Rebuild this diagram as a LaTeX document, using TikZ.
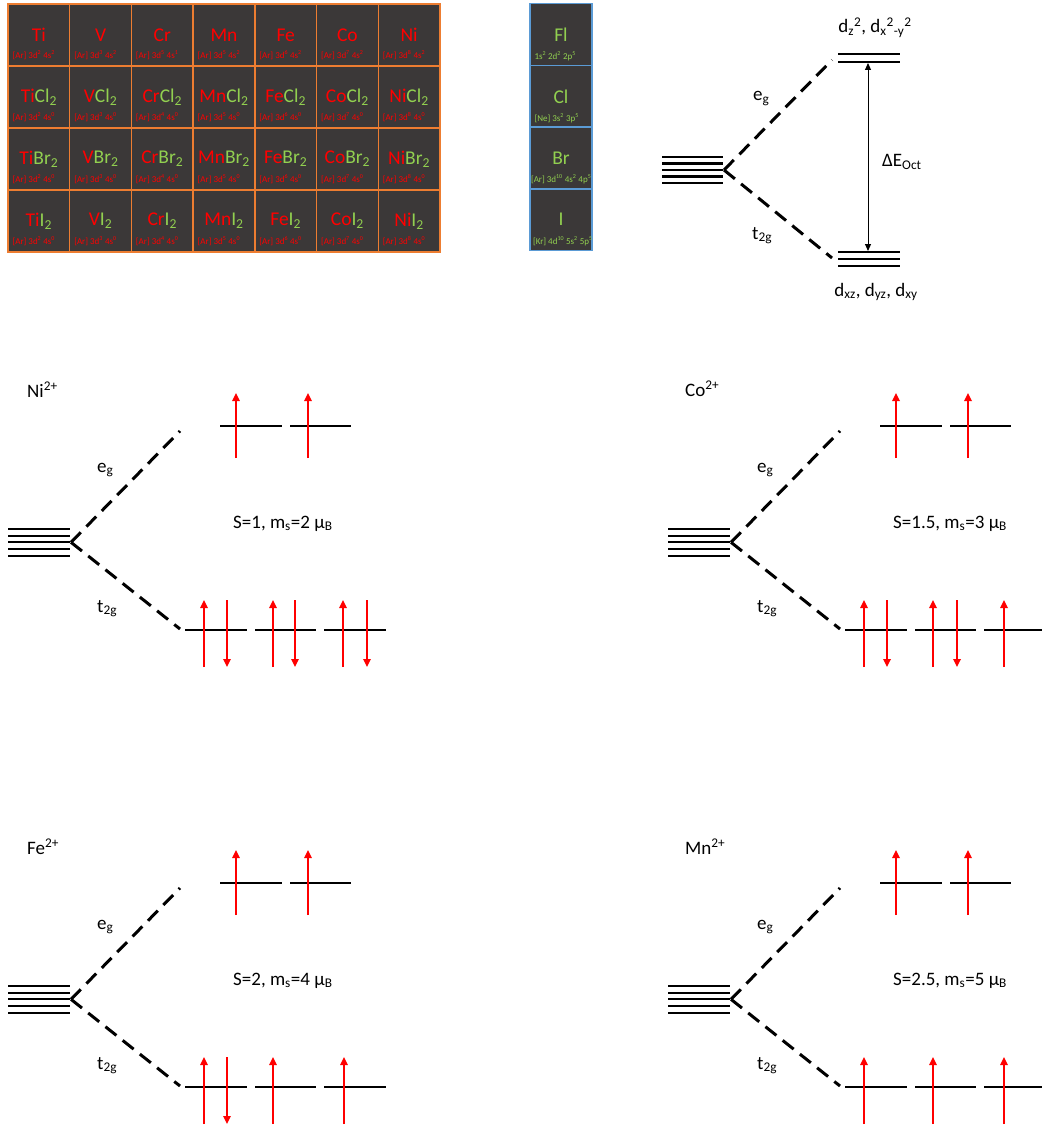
\documentclass[tikz,border=0pt]{standalone}
\usepackage{fontspec}
\setmainfont{Carlito}
\usetikzlibrary{arrows.meta,calc}
\definecolor{cellgray}{HTML}{3B3838}
\definecolor{cellorange}{HTML}{ED7D31}
\definecolor{cellblue}{HTML}{5B9BD5}
\definecolor{elgreen}{HTML}{92D050}
\definecolor{elred}{HTML}{FF0000}

\tikzset{
  metalcell/.style={draw=cellorange, line width=1.4pt, minimum width=61.7pt, minimum height=62pt, inner sep=0pt, text=elred, font=\fontsize{19.5}{22}\selectfont},
  halocell/.style={metalcell, draw=cellblue, minimum width=62pt, minimum height=61.7pt, text=elgreen},
  cfg/.style={anchor=base west, inner sep=0pt, text=elred, font=\fontsize{9}{10}\selectfont},
  lbl/.style={anchor=base west, inner sep=0pt, font=\fontsize{19}{22}\selectfont},
  level/.style={line width=2.2pt},
  split/.style={line width=3pt, dash pattern=on 14pt off 8pt},
  spin/.style={elred, line width=1.6pt, -{Triangle[width=7.5pt,length=8pt]}},
  gap/.style={line width=1pt, {Triangle[width=6pt,length=7pt]}-{Triangle[width=6pt,length=7pt]}},
}

% cell of the metal table: (x,y)[name]{label}{configuration}
\def\elcell(#1,#2)[#3]#4#5{\node[metalcell] (#3) at (#1,#2) {#4};
  \node[cfg] (#3-cfg) at ($(#3.south west)+(5,-8)$) {#5};}
% cell of the halogen column: (x,y)[name]{label}{configuration}{x offset}
\def\halcell(#1,#2)[#3]#4#5#6{\node[halocell] (#3) at (#1,#2) {#4};
  \node[cfg, text=elgreen] (#3-cfg) at ($(#3.south west)+(#6,-7)$) {#5};}
\def\salt#1#2{#1\textcolor{elgreen}{#2\textsubscript{2}}}
\def\arcfg#1#2{[Ar] 3d\textsuperscript{#1} 4s\textsuperscript{#2}}

% five d levels split into e_g and t_2g
\newcommand\dsplit[1]{
  \draw[level] (8,529) -- (70,529);
  \draw[level] (8,535.7) -- (70,535.7);
  \draw[level] (8,542.3) -- (70,542.3);
  \draw[level] (8,549) -- (70,549);
  \draw[level] (8,555.7) -- (70,555.7);
  \coordinate (#1-d) at (71,542.3);
  \coordinate (#1-eg) at (180,431);
  \coordinate (#1-t2g) at (180,629);
  \draw[split] (#1-d) -- (#1-eg);
  \draw[split] (#1-d) -- (#1-t2g);
  \draw[level] (220,426) -- (282,426);
  \draw[level] (290,426) -- (351,426);
  \draw[level] (185,630) -- (247,630);
  \draw[level] (255,630) -- (316,630);
  \draw[level] (324,630) -- (386,630);
  \node[lbl] (#1-eglbl) at (97,472) {e\textsubscript{g}};
  \node[lbl] (#1-t2glbl) at (97,612) {t\textsubscript{2g}};
}

\begin{document}
\begin{tikzpicture}[x=1pt,y=-1pt]
  %%%%% START %%%%%
  \fill[white] (0,0) rectangle (1041,1126);
  \useasboundingbox (0,0) rectangle (1041,1126);

  % table backgrounds
  \fill[cellgray] (8,4) rectangle (440,252);
  \fill[cellgray] (530,3.5) rectangle (592,250.5);

  % metals
  \elcell(38.9,35)[ti]{Ti}{\arcfg{2}{2}}
  \elcell(100.6,35)[v]{V}{\arcfg{3}{2}}
  \elcell(162.3,35)[cr]{Cr}{\arcfg{5}{1}}
  \elcell(224,35)[mn]{Mn}{\arcfg{5}{2}}
  \elcell(285.7,35)[fe]{Fe}{\arcfg{6}{2}}
  \elcell(347.4,35)[co]{Co}{\arcfg{7}{2}}
  \elcell(409.1,35)[ni]{Ni}{\arcfg{8}{2}}

  \elcell(38.9,97)[ticl]{\salt{Ti}{Cl}}{\arcfg{2}{0}}
  \elcell(100.6,97)[vcl]{\salt{V}{Cl}}{\arcfg{3}{0}}
  \elcell(162.3,97)[crcl]{\salt{Cr}{Cl}}{\arcfg{4}{0}}
  \elcell(224,97)[mncl]{\salt{Mn}{Cl}}{\arcfg{5}{0}}
  \elcell(285.7,97)[fecl]{\salt{Fe}{Cl}}{\arcfg{6}{0}}
  \elcell(347.4,97)[cocl]{\salt{Co}{Cl}}{\arcfg{7}{0}}
  \elcell(409.1,97)[nicl]{\salt{Ni}{Cl}}{\arcfg{8}{0}}

  \elcell(38.9,159)[tibr]{\salt{Ti}{Br}}{\arcfg{2}{0}}
  \elcell(100.6,159)[vbr]{\salt{V}{Br}}{\arcfg{3}{0}}
  \elcell(162.3,159)[crbr]{\salt{Cr}{Br}}{\arcfg{4}{0}}
  \elcell(224,159)[mnbr]{\salt{Mn}{Br}}{\arcfg{5}{0}}
  \elcell(285.7,159)[febr]{\salt{Fe}{Br}}{\arcfg{6}{0}}
  \elcell(347.4,159)[cobr]{\salt{Co}{Br}}{\arcfg{7}{0}}
  \elcell(409.1,159)[nibr]{\salt{Ni}{Br}}{\arcfg{8}{0}}

  \elcell(38.9,221)[tii]{\salt{Ti}{I}}{\arcfg{2}{0}}
  \elcell(100.6,221)[vi]{\salt{V}{I}}{\arcfg{3}{0}}
  \elcell(162.3,221)[cri]{\salt{Cr}{I}}{\arcfg{4}{0}}
  \elcell(224,221)[mni]{\salt{Mn}{I}}{\arcfg{5}{0}}
  \elcell(285.7,221)[fei]{\salt{Fe}{I}}{\arcfg{6}{0}}
  \elcell(347.4,221)[coi]{\salt{Co}{I}}{\arcfg{7}{0}}
  \elcell(409.1,221)[nii]{\salt{Ni}{I}}{\arcfg{8}{0}}

  % halogens
  \halcell(561,34.5)[fl]{Fl}{1s\textsuperscript{2} 2d\textsuperscript{2} 2p\textsuperscript{5}}{5}
  \halcell(561,96.5)[cl]{Cl}{[Ne] 3s\textsuperscript{2} 3p\textsuperscript{5}}{5}
  \halcell(561,158)[br]{Br}{[Ar] 3d\textsuperscript{10} 4s\textsuperscript{2} 4p\textsuperscript{5}}{1.5}
  \halcell(561,219.5)[io]{I}{[Kr] 4d\textsuperscript{10} 5s\textsuperscript{2} 5p\textsuperscript{5}}{3.5}

  % octahedral splitting
  \draw[level] (662,157) -- (723,157);
  \draw[level] (662,163.5) -- (723,163.5);
  \draw[level] (662,170) -- (723,170);
  \draw[level] (662,176.5) -- (723,176.5);
  \draw[level] (662,183) -- (723,183);
  \coordinate (oct-d) at (724,170);
  \coordinate (oct-eg) at (832,60);
  \coordinate (oct-t2g) at (832,258);
  \draw[split] (oct-d) -- (oct-eg);
  \draw[split] (oct-d) -- (oct-t2g);
  \draw[level] (838,54) -- (900,54);
  \draw[level] (838,62) -- (900,62);
  \draw[level] (838,252) -- (900,252);
  \draw[level] (838,259) -- (900,259);
  \draw[level] (838,266) -- (900,266);
  \coordinate (oct-top) at (868,63);
  \coordinate (oct-bot) at (868,251);
  \draw[gap] (oct-top) -- (oct-bot);
  \node[lbl, anchor=base] (oct-uplbl) at (875,33) {d\textsubscript{z}\textsuperscript{2}, d\textsubscript{x}\textsuperscript{2}\textsubscript{-y}\textsuperscript{2}};
  \node[lbl, anchor=base] (oct-lowlbl) at (876,296) {d\textsubscript{xz}, d\textsubscript{yz}, d\textsubscript{xy}};
  \node[lbl] (oct-gaplbl) at (882,167) {ΔE\textsubscript{Oct}};
  \node[lbl] (oct-eglbl) at (753,101) {e\textsubscript{g}};
  \node[lbl] (oct-t2glbl) at (752,239) {t\textsubscript{2g}};

  % Ni2+
  \begin{scope}
    \dsplit{ni}
    \node[lbl] (ni-ion) at (27,397) {Ni\textsuperscript{2+}};
    \node[lbl] (ni-spin) at (233,528) {S=1, m\textsubscript{s}=2 μ\textsubscript{B}};
    \draw[spin] (236,458) -- (236,393);
    \draw[spin] (308,458) -- (308,393);
    \draw[spin] (204,667) -- (204,600);
    \draw[spin] (227,600) -- (227,667);
    \draw[spin] (273,667) -- (273,600);
    \draw[spin] (295,600) -- (295,667);
    \draw[spin] (343,667) -- (343,600);
    \draw[spin] (367,600) -- (367,667);
  \end{scope}

  % Co2+
  \begin{scope}[shift={(660,0)}]
    \dsplit{co}
    \node[lbl] (co-ion) at (25,396) {Co\textsuperscript{2+}};
    \node[lbl] (co-spin) at (233,528) {S=1.5, m\textsubscript{s}=3 μ\textsubscript{B}};
    \draw[spin] (236,458) -- (236,393);
    \draw[spin] (308,458) -- (308,393);
    \draw[spin] (204,667) -- (204,600);
    \draw[spin] (227,600) -- (227,667);
    \draw[spin] (273,667) -- (273,600);
    \draw[spin] (297,600) -- (297,667);
    \draw[spin] (344,667) -- (344,600);
  \end{scope}

  % Fe2+
  \begin{scope}[shift={(0,457)}]
    \dsplit{fe}
    \node[lbl] (fe-ion) at (27,397) {Fe\textsuperscript{2+}};
    \node[lbl] (fe-spin) at (233,528) {S=2, m\textsubscript{s}=4 μ\textsubscript{B}};
    \draw[spin] (236,458) -- (236,393);
    \draw[spin] (308,458) -- (308,393);
    \draw[spin] (204,667) -- (204,600);
    \draw[spin] (227,600) -- (227,667);
    \draw[spin] (273,667) -- (273,600);
    \draw[spin] (344,667) -- (344,600);
  \end{scope}

  % Mn2+
  \begin{scope}[shift={(660,457)}]
    \dsplit{mn}
    \node[lbl] (mn-ion) at (25,397) {Mn\textsuperscript{2+}};
    \node[lbl] (mn-spin) at (233,528) {S=2.5, m\textsubscript{s}=5 μ\textsubscript{B}};
    \draw[spin] (236,458) -- (236,393);
    \draw[spin] (308,458) -- (308,393);
    \draw[spin] (204,667) -- (204,600);
    \draw[spin] (273,667) -- (273,600);
    \draw[spin] (344,667) -- (344,600);
  \end{scope}

  %%%%% END %%%%%
\end{tikzpicture}
\end{document}
